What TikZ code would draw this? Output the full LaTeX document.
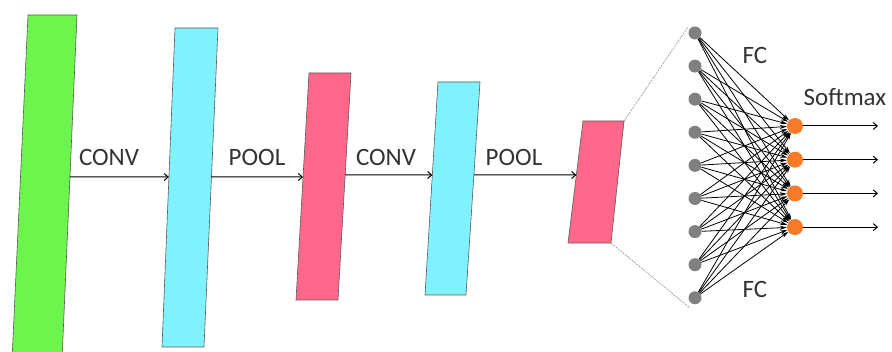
\documentclass[tikz,border=0pt]{standalone}
\usepackage{fontspec}
\setmainfont{Carlito}
\usetikzlibrary{calc,arrows.meta}
\definecolor{lgreen}{RGB}{108,245,76}
\definecolor{lcyan}{RGB}{128,242,255}
\definecolor{lpink}{RGB}{255,104,138}
\definecolor{ngray}{RGB}{128,128,128}
\definecolor{norange}{RGB}{247,122,40}
\begin{document}
\begin{tikzpicture}[x=1pt,y=-1pt,
  font=\fontsize{25}{29}\selectfont,
  lay/.style={draw=black!65, line width=0.6pt},
  conn/.style={-{Straight Barb[length=4pt,width=7pt]}, line width=1pt},
  lbl/.style={text=black!80, inner sep=0pt},
  inn/.style={circle, fill=ngray, minimum size=13pt, inner sep=0pt},
  outn/.style={circle, fill=norange, minimum size=16pt, inner sep=0pt},
  fc/.style={-{Stealth[length=7pt,width=4pt]}, line width=0.8pt},
  guide/.style={draw=gray, line width=0.5pt, dash pattern=on 2pt off 1pt}]
\useasboundingbox (0,0) rectangle (892,352);
% layer corners
\coordinate (a1) at (28,15);  \coordinate (a2) at (77,15);  \coordinate (a3) at (62,360); \coordinate (a4) at (12,360);
\coordinate (b1) at (175,28); \coordinate (b2) at (218,28); \coordinate (b3) at (204,347); \coordinate (b4) at (162,347);
\coordinate (c1) at (309,73); \coordinate (c2) at (351,73); \coordinate (c3) at (338,300); \coordinate (c4) at (296,300);
\coordinate (d1) at (438,82); \coordinate (d2) at (480,82); \coordinate (d3) at (466,295); \coordinate (d4) at (425,295);
\coordinate (e1) at (583,121); \coordinate (e2) at (624,121); \coordinate (e3) at (611,243); \coordinate (e4) at (568,243);
\fill[lgreen] (a1) -- (a2) -- (a3) -- (a4) -- cycle;
\draw[lay] (a4) -- (a1) -- (a2) -- (a3);
\filldraw[lay, fill=lcyan] (b1) -- (b2) -- (b3) -- (b4) -- cycle;
\filldraw[lay, fill=lpink] (c1) -- (c2) -- (c3) -- (c4) -- cycle;
\filldraw[lay, fill=lcyan] (d1) -- (d2) -- (d3) -- (d4) -- cycle;
\filldraw[lay, fill=lpink] (e1) -- (e2) -- (e3) -- (e4) -- cycle;
% arrow end points on layer edges (y = 177 and y = 175)
\coordinate (p1) at ($(a2)!{(177-15)/345}!(a3)$);
\coordinate (p2) at ($(b1)!{(177-28)/319}!(b4)$);
\coordinate (p3) at ($(b2)!{(177-28)/319}!(b3)$);
\coordinate (p4) at ($(c1)!{(177-73)/227}!(c4)$);
\coordinate (p5) at ($(c2)!{(175-73)/227}!(c3)$);
\coordinate (p6) at ($(d1)!{(175-82)/213}!(d4)$);
\coordinate (p7) at ($(d2)!{(175-82)/213}!(d3)$);
\coordinate (p8) at ($(e1)!{(175-121)/122}!(e4)$);
\draw[conn] (p1) -- (p2);
\draw[conn] (p3) -- (p4);
\draw[conn] (p5) -- (p6);
\draw[conn] (p7) -- (p8);
\node[lbl] (l1) at (109,157) {CONV};
\node[lbl] (l2) at (257,157) {POOL};
\node[lbl] (l3) at (386,157) {CONV};
\node[lbl] (l4) at (514,157) {POOL};
% guides
\coordinate (gt) at (688,27);
\coordinate (gb) at (690,308);
\draw[guide] (e2) -- (gt);
\draw[guide] (e3) -- (gb);
% FC network
\foreach \i in {1,...,9} {
  \node[inn] (n\i) at (695,{33+33.1*(\i-1)}) {};
}
\foreach \j in {1,...,4} {
  \node[outn] (o\j) at (795,{126+33.7*(\j-1)}) {};
  \coordinate (q\j) at (878,{126+33.7*(\j-1)});
}
\foreach \i in {1,...,9} {
  \foreach \j in {1,...,4} {
    \draw[fc] (n\i) -- (o\j);
  }
}
\foreach \j in {1,...,4} {
  \draw[conn] (o\j) -- (q\j);
}
\node[lbl] (fc1) at (755,55) {FC};
\node[lbl] (fc2) at (755,289) {FC};
\node[lbl] (sm) at (845,97) {Softmax};
\end{tikzpicture}
\end{document}
